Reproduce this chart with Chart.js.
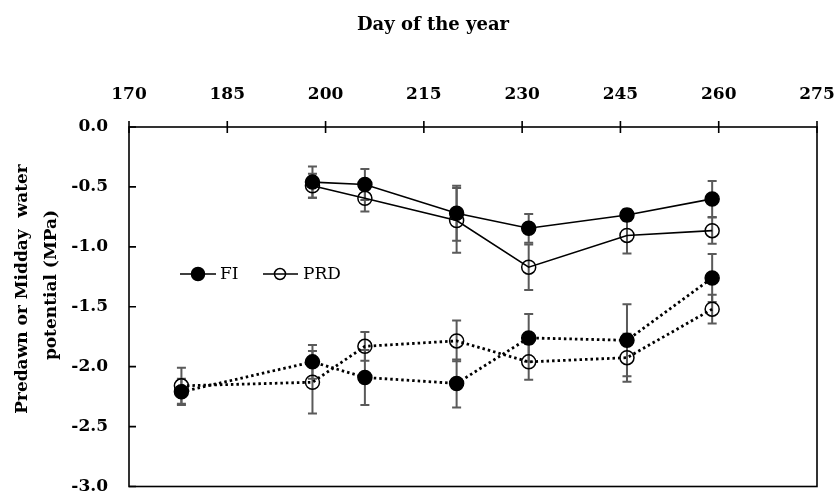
<!DOCTYPE html>
<html>
<head>
<meta charset="utf-8">
<script src="https://cdn.jsdelivr.net/npm/chart.js@4.4.1/dist/chart.umd.min.js"></script>
<style>
	html, body { margin: 0; padding: 0; background: #fff; }
	#wrap { width: 834px; height: 495px; }
</style>
</head>
<body>
<div id="wrap"><canvas id="waterChart" width="834" height="495"></canvas></div>
<script>
// day of year for each sampling
var middayDays = [198, 206, 220, 231, 246, 259];
var predawnDays = [178, 198, 206, 220, 231, 246, 259];

// midday water potential (MPa) and error bars
var middayFI = [-0.46, -0.48, -0.72, -0.845, -0.735, -0.60];
var middayFIErr = [0.13, 0.13, 0.23, 0.12, 0.05, 0.15];
var middayPRD = [-0.49, -0.595, -0.78, -1.17, -0.905, -0.865];
var middayPRDErr = [0.10, 0.11, 0.27, 0.19, 0.15, 0.11];

// predawn water potential (MPa) and error bars
var predawnFI = [-2.21, -1.96, -2.09, -2.14, -1.76, -1.78, -1.26];
var predawnFIErr = [0.11, 0.14, 0.23, 0.20, 0.20, 0.30, 0.20];
var predawnPRD = [-2.16, -2.13, -1.83, -1.785, -1.96, -1.925, -1.52];
var predawnPRDErr = [0.15, 0.26, 0.12, 0.17, 0.15, 0.20, 0.12];

var xTicks = [170, 185, 200, 215, 230, 245, 260, 275];
var yTicks = [0, -0.5, -1.0, -1.5, -2.0, -2.5, -3.0];

var serif = '"DejaVu Serif", "Liberation Serif", serif';

function toPoints(days, vals) {
	return days.map(function (d, i) { return { x: d, y: vals[i] }; });
}

function drawMarker(ctx, x, y, r, filled) {
	ctx.beginPath();
	ctx.arc(x, y, r, 0, Math.PI * 2);
	if (filled) {
		ctx.fillStyle = '#000';
		ctx.fill();
	}
	ctx.lineWidth = 1.5;
	ctx.strokeStyle = '#000';
	ctx.stroke();
}

// chart.js pads the area for tick labels; we place it ourselves
function noPad(s) {
	s.paddingLeft = 0; s.paddingRight = 0; s.paddingTop = 0; s.paddingBottom = 0;
}

var errorBars = {
	id: 'errorBars',
	beforeDatasetsDraw: function (chart) {
		var ctx = chart.ctx;
		var xs = chart.scales.x, ys = chart.scales.y;
		ctx.save();
		ctx.strokeStyle = '#5a5a5a';
		ctx.lineWidth = 2;
		chart.data.datasets.forEach(function (ds) {
			ds.data.forEach(function (p, j) {
				var e = ds.errors[j];
				var px = xs.getPixelForValue(p.x);
				var top = ys.getPixelForValue(p.y + e);
				var bot = ys.getPixelForValue(p.y - e);
				ctx.beginPath();
				ctx.moveTo(px, top); ctx.lineTo(px, bot);
				ctx.moveTo(px - 4.5, top); ctx.lineTo(px + 4.5, top);
				ctx.moveTo(px - 4.5, bot); ctx.lineTo(px + 4.5, bot);
				ctx.stroke();
			});
		});
		ctx.restore();
	}
};

var frame = {
	id: 'frame',
	afterDraw: function (chart) {
		var ctx = chart.ctx;
		var a = chart.chartArea;
		var xs = chart.scales.x, ys = chart.scales.y;
		ctx.save();
		ctx.strokeStyle = '#000';
		ctx.lineWidth = 1.6;
		ctx.strokeRect(a.left, a.top, a.right - a.left, a.bottom - a.top);
		ctx.beginPath();
		xTicks.forEach(function (t) {
			var px = xs.getPixelForValue(t);
			ctx.moveTo(px, a.top - 6); ctx.lineTo(px, a.top + 6);
		});
		yTicks.forEach(function (t) {
			var py = ys.getPixelForValue(t);
			ctx.moveTo(a.left, py); ctx.lineTo(a.left + 7, py);
		});
		ctx.stroke();

		// titles
		ctx.fillStyle = '#000';
		ctx.font = 'bold 18px ' + serif;
		ctx.textAlign = 'center';
		ctx.textBaseline = 'middle';
		ctx.fillText('Day of the year', 433, 25);
		ctx.font = 'bold 17px ' + serif;
		ctx.save();
		ctx.translate(23, 289);
		ctx.rotate(-Math.PI / 2);
		ctx.fillText('Predawn or Midday  water', 0, 0);
		ctx.restore();
		ctx.save();
		ctx.translate(52, 285);
		ctx.rotate(-Math.PI / 2);
		ctx.fillText('potential (MPa)', 0, 0);
		ctx.restore();

		// legend
		var ly = 274;
		ctx.lineWidth = 1.6;
		ctx.beginPath();
		ctx.moveTo(180, ly); ctx.lineTo(216, ly);
		ctx.moveTo(263, ly); ctx.lineTo(298, ly);
		ctx.stroke();
		drawMarker(ctx, 198, ly, 6.5, true);
		drawMarker(ctx, 280, ly, 5.5, false);
		ctx.font = '17px ' + serif;
		ctx.textAlign = 'left';
		ctx.fillText('FI', 220, ly + 1);
		ctx.fillText('PRD', 303, ly + 1);
		ctx.restore();
	}
};

function series(label, days, vals, errs, filled, dotted) {
	return {
		label: label,
		data: toPoints(days, vals),
		errors: errs,
		borderColor: '#000',
		borderWidth: dotted ? 2.8 : 1.6,
		borderDash: dotted ? [2.5, 3] : [],
		pointRadius: 7,
		pointBorderWidth: 1.5,
		pointBorderColor: '#000',
		pointBackgroundColor: filled ? '#000' : 'rgba(0,0,0,0)',
		pointHoverRadius: 7,
		tension: 0,
		fill: false
	};
}

new Chart(document.getElementById('waterChart').getContext('2d'), {
	type: 'line',
	plugins: [errorBars, frame],
	data: {
		datasets: [
			series('FI midday', middayDays, middayFI, middayFIErr, true, false),
			series('PRD midday', middayDays, middayPRD, middayPRDErr, false, false),
			series('FI predawn', predawnDays, predawnFI, predawnFIErr, true, true),
			series('PRD predawn', predawnDays, predawnPRD, predawnPRDErr, false, true)
		]
	},
	options: {
		responsive: false,
		animation: false,
		layout: { padding: { left: 0, right: 17, top: 0, bottom: 7 } },
		plugins: {
			legend: { display: false },
			tooltip: { enabled: false }
		},
		scales: {
			x: {
				type: 'linear',
				position: 'top',
				min: 170,
				max: 275,
				afterBuildTicks: function (s) { s.ticks = xTicks.map(function (v) { return { value: v }; }); },
				afterFit: function (s) { s.height = 127; noPad(s); },
				grid: { display: false, drawTicks: false },
				border: { display: false },
				ticks: {
					color: '#000',
					padding: 22,
					maxRotation: 0,
					font: { family: serif, size: 17, weight: 'bold' }
				}
			},
			y: {
				type: 'linear',
				min: -3,
				max: 0,
				afterBuildTicks: function (s) { s.ticks = yTicks.map(function (v) { return { value: v }; }); },
				afterFit: function (s) { s.width = 129; noPad(s); },
				grid: { display: false, drawTicks: false },
				border: { display: false },
				ticks: {
					color: '#000',
					padding: 21,
					font: { family: serif, size: 17, weight: 'bold' },
					callback: function (v) { return v.toFixed(1); }
				}
			}
		}
	}
});
</script>
</body>
</html>
